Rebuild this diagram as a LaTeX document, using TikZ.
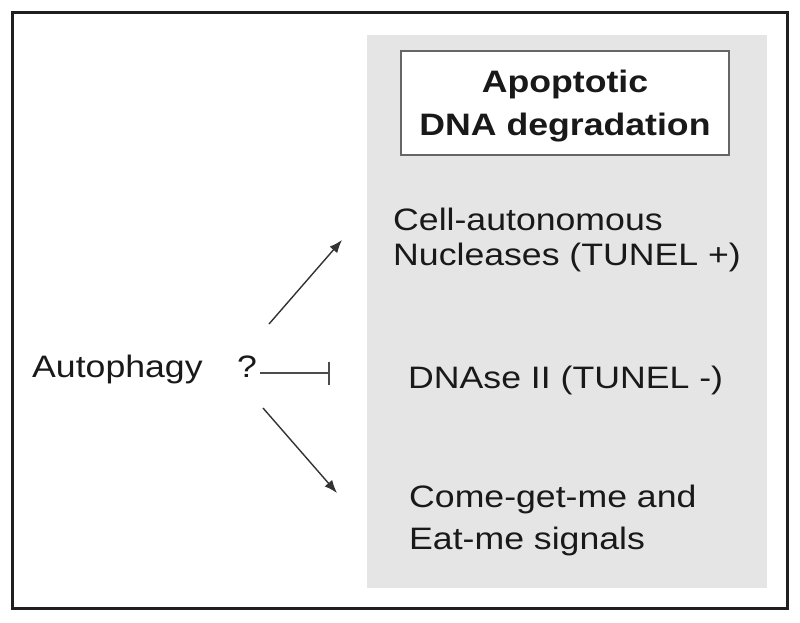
\documentclass[tikz,border=0pt]{standalone}
\usepackage{fontspec}
\setmainfont{Liberation Sans}[FakeStretch=1.15]
\usetikzlibrary{arrows.meta}
\begin{document}
\begin{tikzpicture}[x=1pt,y=-1pt,
  txt/.style={font=\fontsize{31}{35}\selectfont, inner sep=0pt, align=left, anchor=base west, text=black!90},
  titlebox/.style={draw=black!60, line width=1.5pt, fill=white, minimum width=328pt, minimum height=104pt,
    inner sep=0pt, align=center, font=\fontsize{31}{43}\selectfont\bfseries, text=black!90},
  arr/.style={draw=black!80, line width=1.4pt, -{Latex[length=13pt,width=10pt]}},
  inhib/.style={draw=black!70, line width=1.4pt, -{Bar[width=23pt,line width=1.6pt]}}]
\useasboundingbox (0,0) rectangle (800,622);
\draw[line width=3pt, draw=black!88] (12,12) rectangle (787,608);
\fill[black!10] (367,35) rectangle (767,588);
\node[titlebox] (title) at (565,103) {\rule{0pt}{29pt}Apoptotic\\DNA degradation};
\node[txt, font=\fontsize{31}{35}\selectfont] (nuc) at (393,265) {Cell-autonomous\\Nucleases (TUNEL +)};
\node[txt] (dnase) at (408,388) {DNAse II (TUNEL -)};
\node[txt, font=\fontsize{31}{42}\selectfont] (eat) at (409,549) {Come-get-me and\\Eat-me signals};
\node[txt] (auto) at (32,377) {Autophagy};
\node[txt] (q) at (237,377) {?};
\coordinate (upS) at (269,324);
\coordinate (upE) at (342,240);
\coordinate (dnS) at (263,408);
\coordinate (dnE) at (337,493);
\coordinate (inh) at (330,373);
\draw[arr] (upS) -- (upE);
\draw[arr] (dnS) -- (dnE);
\draw[inhib] ([xshift=3pt]q.east |- inh) -- (inh);
\end{tikzpicture}
\end{document}
